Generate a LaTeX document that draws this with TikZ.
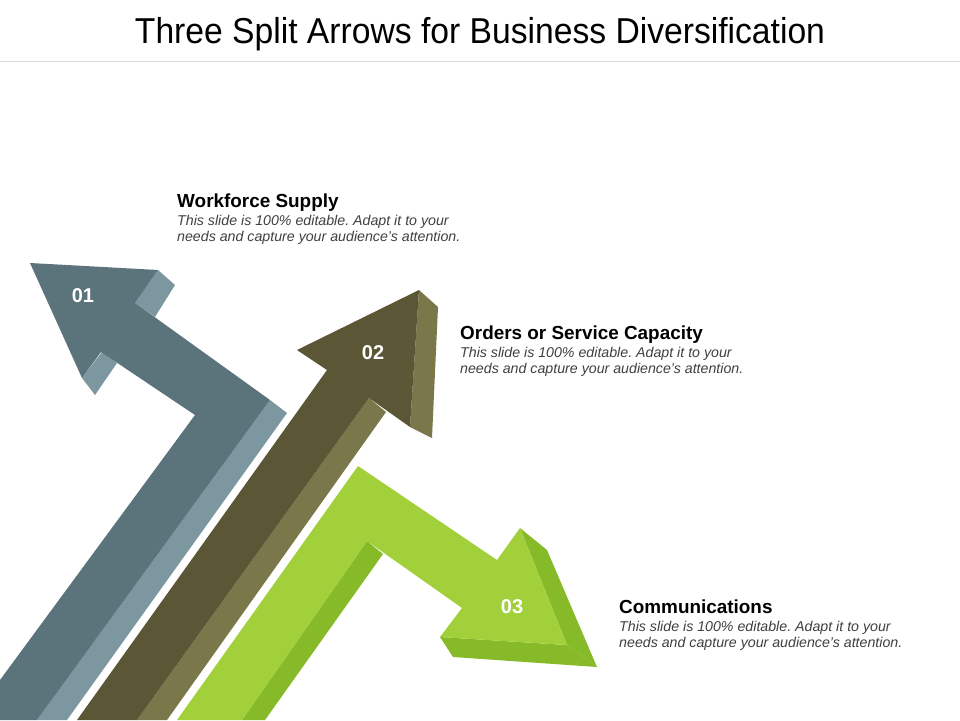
\documentclass[tikz,border=0pt]{standalone}
\usepackage{fontspec}
\setmainfont{Liberation Sans}
\usepackage{graphicx}
\definecolor{aoneD}{RGB}{91,115,122}
\definecolor{aoneL}{RGB}{124,151,159}
\definecolor{atwoD}{RGB}{90,86,54}
\definecolor{atwoL}{RGB}{122,120,74}
\definecolor{athrL}{RGB}{162,208,58}
\definecolor{athrD}{RGB}{135,186,40}
\definecolor{desc}{RGB}{64,64,64}
\newcommand{\aposq}{{\char"27}}
\begin{document}
\frenchspacing
\begin{tikzpicture}[x=1pt,y=-1pt,
  numlbl/.style={text=white,font=\bfseries\fontsize{20}{24}\selectfont,inner sep=0pt},
  headtxt/.style={anchor=base west,inner sep=0pt,font=\bfseries\fontsize{18.9}{22}\selectfont,text=black},
  desctxt/.style={anchor=base west,inner sep=0pt,font=\itshape\fontsize{14.2}{16}\selectfont,text=desc}]
\useasboundingbox (0,0) rectangle (960,720);
\fill[white] (0,0) rectangle (960,720);
% title
\node[anchor=base,inner sep=0pt] (title) at (480,43) {\fontsize{36}{40}\selectfont\resizebox{690pt}{\height}{Three Split Arrows for Business Diversification}};
\draw[line width=1pt,color=black!15] (0,61) -- (960,61);
% arrow 1
\fill[aoneL] (158,270) -- (175,285) -- (155,317) -- (135,303) -- cycle;
\fill[aoneL] (82,378) -- (95,395) -- (117,363) -- (102,352) -- cycle;
\fill[aoneL] (270,400) -- (287,413) -- (67,720) -- (37,720) -- cycle;
\fill[aoneD] (30,263) -- (158,270) -- (135,303) -- (270,400) -- (37,720) -- (0,720) -- (0,680) -- (195,415) -- (101,352) -- (82,378) -- cycle;
% arrow 2
\fill[atwoL] (419,290) -- (438,307) -- (432,438) -- (410,427) -- cycle;
\fill[atwoL] (369,398) -- (386,412) -- (167,720) -- (137,720) -- cycle;
\fill[atwoD] (419,290) -- (410,427) -- (369,398) -- (137,720) -- (77,720) -- (327,370) -- (297,350) -- cycle;
% arrow 3
\fill[athrD] (520,528) -- (547,550) -- (597,667) -- (567,645) -- cycle;
\fill[athrD] (440,637) -- (567,645) -- (597,667) -- (453,657) -- cycle;
\fill[athrD] (367,541) -- (383,554) -- (265,720) -- (242,720) -- cycle;
\fill[athrL] (358,466) -- (497,560) -- (520,528) -- (567,645) -- (440,637) -- (462,608) -- (367,541) -- (242,720) -- (177,720) -- cycle;
% numbers
\node[numlbl] (n1) at (83,296) {01};
\node[numlbl] (n2) at (373,353) {02};
\node[numlbl] (n3) at (512,607) {03};
% texts
\node[headtxt] (h1) at (177,207) {Workforce Supply};
\node[desctxt] (d1a) at (177,225) {This slide is 100\% editable. Adapt it to your};
\node[desctxt] (d1b) at (177,241) {needs and capture your audience\aposq s attention.};
\node[headtxt] (h2) at (460,339) {Orders or Service Capacity};
\node[desctxt] (d2a) at (460,357) {This slide is 100\% editable. Adapt it to your};
\node[desctxt] (d2b) at (460,373) {needs and capture your audience\aposq s attention.};
\node[headtxt] (h3) at (619,613) {Communications};
\node[desctxt] (d3a) at (619,631) {This slide is 100\% editable. Adapt it to your};
\node[desctxt] (d3b) at (619,647) {needs and capture your audience\aposq s attention.};
\end{tikzpicture}
\end{document}
